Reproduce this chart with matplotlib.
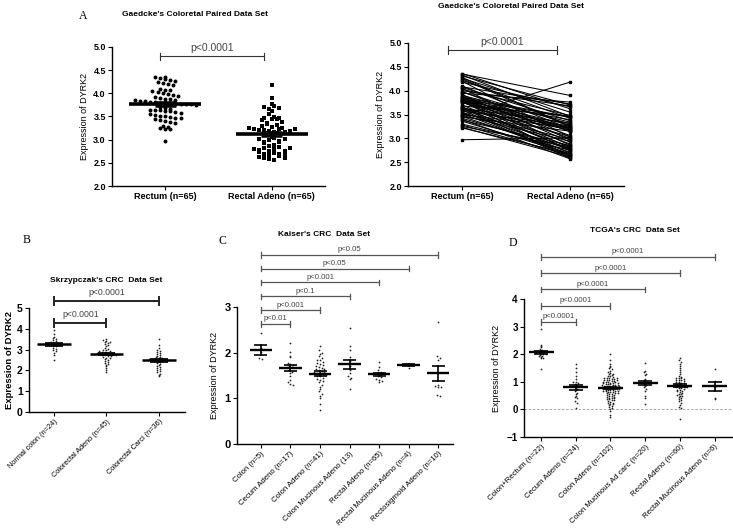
import numpy as np
import matplotlib
matplotlib.use('Agg')
import matplotlib.pyplot as plt
import matplotlib.transforms as mtransforms

plt.rcParams['font.family'] = ['Liberation Sans', 'DejaVu Sans']

W, H = 733, 529

# ---- data ------------------------------------------------------------------
# Gaedcke paired set: adeno values are listed in the same order as the rectum
# values they are paired with.
gaedcke_labels = ["Rectum (n=65)", "Rectal Adeno (n=65)"]
gaedcke_rectum = [
    4.36, 4.35, 4.33, 4.31, 4.28, 4.26, 4.25, 4.22, 4.20, 4.18,
    4.10, 4.08, 4.07, 4.05, 4.03, 4.00, 3.98, 3.97, 3.95,
    3.92, 3.90, 3.88, 3.87, 3.86, 3.85, 3.84, 3.83, 3.82, 3.81,
    3.80, 3.80, 3.79, 3.78, 3.78, 3.77, 3.76, 3.75,
    3.70, 3.68, 3.66, 3.65, 3.64, 3.63, 3.62, 3.61, 3.60,
    3.57, 3.55, 3.53, 3.52, 3.50, 3.48, 3.47, 3.46, 3.45,
    3.42, 3.40, 3.38, 3.36, 3.30, 3.28, 3.25, 3.23, 3.22, 2.97,
]
gaedcke_adeno = [
    3.62, 3.90, 3.46, 3.70, 3.25, 3.55, 3.24, 3.42, 3.02, 3.66,
    3.20, 3.72, 3.37, 2.96, 3.48, 3.68, 3.14, 3.30, 3.76,
    2.92, 3.34, 3.21, 3.06, 3.45, 2.86, 3.19, 3.44, 2.80, 3.28,
    3.00, 3.16, 2.74, 3.39, 2.62, 3.23, 2.88, 3.17,
    2.77, 3.47, 2.69, 3.04, 2.60, 3.32, 2.83, 3.18, 2.58,
    3.26, 2.76, 2.98, 2.66, 3.22, 2.94, 4.18, 2.71, 3.15,
    2.79, 2.57, 2.85, 2.68, 2.75, 2.64, 2.82, 2.61, 2.67, 3.01,
]

skrz_labels = ["Normal colon (n=24)", "Colorectal Adeno (n=45)", "Colorectal Carci (n=36)"]
skrz_normal = [3.95, 3.75, 3.62, 3.55, 3.50, 3.45, 3.40, 3.35, 3.32, 3.30, 3.28, 3.26,
               3.25, 3.22, 3.20, 3.18, 3.15, 3.10, 3.05, 3.00, 2.95, 2.85, 2.75, 2.50]
skrz_adeno = [3.50, 3.45, 3.42, 3.38, 3.35, 3.30, 3.25, 3.20, 3.15, 3.10,
              3.05, 3.00, 2.97, 2.95, 2.92, 2.90, 2.88, 2.86, 2.85, 2.84,
              2.83, 2.82, 2.81, 2.80, 2.79, 2.78, 2.76, 2.74, 2.72, 2.70,
              2.68, 2.65, 2.62, 2.60, 2.55, 2.50, 2.45, 2.40, 2.35, 2.30,
              2.25, 2.20, 2.10, 2.00, 1.92]
skrz_carci = [3.50, 3.20, 3.10, 3.00, 2.95, 2.90, 2.85, 2.80, 2.75, 2.70,
              2.66, 2.63, 2.60, 2.58, 2.56, 2.55, 2.54, 2.53, 2.52, 2.50,
              2.48, 2.45, 2.40, 2.35, 2.30, 2.25, 2.20, 2.15, 2.10, 2.05,
              2.00, 1.95, 1.90, 1.85, 1.78, 1.72]
skrz_pvals = [(0, 1, "p<0.0001"), (0, 2, "p<0.0001")]

kaiser_labels = ["Colon (n=5)", "Cecum Adeno (n=17)", "Colon Adeno (n=41)",
                 "Colon Mucinous Adeno (13)", "Rectal Adeno (n=65)",
                 "Rectal Mucinous Adeno (n=4)", "Rectosigmoid Adeno (n=10)"]
kaiser_colon = [2.44, 2.10, 2.02, 1.88, 1.86]
kaiser_cecum = [2.21, 2.02, 1.93, 1.90, 1.78, 1.75, 1.72, 1.70, 1.68, 1.62,
                1.58, 1.55, 1.50, 1.40, 1.35, 1.32, 1.30]
kaiser_colon_adeno = [2.15, 2.05, 2.00, 1.97, 1.92, 1.88, 1.85, 1.83, 1.80, 1.78,
                      1.75, 1.72, 1.70, 1.68, 1.66, 1.65, 1.64, 1.62, 1.60, 1.58,
                      1.57, 1.56, 1.55, 1.54, 1.52, 1.50, 1.48, 1.45, 1.42, 1.40,
                      1.38, 1.35, 1.30, 1.25, 1.20, 1.15, 1.10, 1.05, 1.00, 0.88, 0.74]
kaiser_colon_muc = [2.53, 2.15, 2.05, 1.90, 1.82, 1.75, 1.70, 1.62, 1.55, 1.50,
                    1.45, 1.42, 1.20]
kaiser_rectal = [1.80, 1.68, 1.62, 1.58, 1.55, 1.52, 1.50, 1.47, 1.43, 1.40, 1.38, 1.36]
kaiser_rectal_muc = [1.76, 1.75, 1.74, 1.66]
kaiser_rectosig = [2.67, 1.92, 1.88, 1.83, 1.30, 1.28, 1.25, 1.24, 1.07, 1.05]
kaiser_pvals = [(0, 1, "p<0.01"), (0, 2, "p<0.001"), (0, 3, "p<0.1"),
                (0, 4, "p<0.001"), (0, 5, "p<0.05"), (0, 6, "p<0.05")]

tcga_labels = ["Colon+Rectum (n=22)", "Cecum Adeno (n=24)", "Colon Adeno (n=102)",
               "Colon Mucinous Ad carc (n=20)", "Rectal Adeno (n=60)",
               "Rectal Mucinous Adeno (n=6)"]
tcga_normal = [2.90, 2.35, 2.30, 2.25, 2.20, 2.15, 2.12, 2.10, 2.08, 2.07, 2.05,
               2.04, 2.03, 2.02, 2.00, 1.98, 1.95, 1.92, 1.90, 1.88, 1.85, 1.45]
tcga_cecum = [1.65, 1.50, 1.35, 1.20, 1.10, 1.00, 0.98, 0.95, 0.92, 0.88, 0.85, 0.82,
              0.80, 0.75, 0.70, 0.65, 0.60, 0.55, 0.50, 0.45, 0.40, 0.30, 0.25, 0.05]
tcga_colon = [2.00, 1.78, 1.65, 1.58, 1.55, 1.50, 1.45, 1.40, 1.35, 1.32,
              1.30, 1.28, 1.25, 1.22, 1.20, 1.18, 1.15, 1.13, 1.12, 1.10,
              1.08, 1.06, 1.05, 1.03, 1.02, 1.00, 0.99, 0.98, 0.96, 0.95,
              0.94, 0.93, 0.92, 0.91, 0.90, 0.89, 0.88, 0.87, 0.86, 0.85,
              0.84, 0.83, 0.82, 0.81, 0.80, 0.80, 0.79, 0.78, 0.77, 0.76,
              0.75, 0.74, 0.73, 0.72, 0.71, 0.70, 0.69, 0.68, 0.67, 0.66,
              0.65, 0.64, 0.63, 0.62, 0.61, 0.60, 0.58, 0.56, 0.55, 0.53,
              0.52, 0.50, 0.48, 0.46, 0.45, 0.43, 0.42, 0.40, 0.38, 0.36,
              0.35, 0.33, 0.30, 0.28, 0.25, 0.22, 0.20, 0.18, 0.15, 0.12,
              0.10, 0.06, 0.02, -0.05, -0.22, -0.28, 1.00, 1.05, 1.10, 1.15,
              0.85, 0.95]
tcga_colon_muc = [1.68, 1.40, 1.35, 1.30, 1.25, 1.10, 1.05, 1.02, 1.00, 0.98,
                  0.95, 0.92, 0.90, 0.85, 0.80, 0.75, 0.65, 0.50, 0.40, 0.20]
tcga_rectal = [1.85, 1.78, 1.72, 1.65, 1.58, 1.50, 1.42, 1.35, 1.28, 1.22,
               1.18, 1.15, 1.13, 1.12, 1.10, 1.08, 1.06, 1.05, 1.03, 1.01,
               0.99, 0.97, 0.95, 0.93, 0.92, 0.90, 0.89, 0.88, 0.87, 0.86,
               0.85, 0.84, 0.83, 0.82, 0.81, 0.80, 0.78, 0.76, 0.74, 0.72,
               0.70, 0.68, 0.65, 0.62, 0.60, 0.57, 0.55, 0.52, 0.50, 0.47,
               0.45, 0.42, 0.38, 0.35, 0.30, 0.25, 0.15, 0.10, 0.05, -0.33]
tcga_rectal_muc = [1.45, 1.02, 0.90, 0.82, 0.42, 0.38]
tcga_pvals = [(0, 1, "p<0.0001"), (0, 2, "p<0.0001"), (0, 3, "p<0.0001"),
              (0, 4, "p<0.0001"), (0, 5, "p<0.0001")]


# ---- helpers ---------------------------------------------------------------
def px_axes(x0, y_top, x1, y_bot):
    """axes from pixel box of the reference image"""
    return fig.add_axes([x0 / W, 1 - y_bot / H, (x1 - x0) / W, (y_bot - y_top) / H])


def swarm_x(vals, center, bin_w, step):
    vals = np.asarray(vals, dtype=float)
    keys = np.round(vals / bin_w).astype(int)
    xs = np.empty(len(vals))
    for k in np.unique(keys):
        idx = np.where(keys == k)[0]
        offs = (np.arange(len(idx)) - (len(idx) - 1) / 2) * step
        xs[idx] = center + offs
    return xs


def mean_sem(ax, vals, x, hw, cw, lw):
    m = np.mean(vals)
    s = np.std(vals, ddof=1) / np.sqrt(len(vals))
    ax.plot([x - hw, x + hw], [m, m], color='k', lw=lw, zorder=5, solid_capstyle='butt')
    ax.plot([x, x], [m - s, m + s], color='k', lw=lw * 0.7, zorder=5)
    for yy in (m - s, m + s):
        ax.plot([x - cw, x + cw], [yy, yy], color='k', lw=lw * 0.7, zorder=5,
                solid_capstyle='butt')


def bracket(ax, x0, x1, yf, text, fs, color='#555555', lw=0.9, dy=0.025, tdy=0.02):
    tr = mtransforms.blended_transform_factory(ax.transData, ax.transAxes)
    kw = dict(color=color, lw=lw, transform=tr, clip_on=False)
    ax.plot([x0, x1], [yf, yf], **kw)
    ax.plot([x0, x0], [yf - dy, yf + dy], **kw)
    ax.plot([x1, x1], [yf - dy, yf + dy], **kw)
    ax.text((x0 + x1) / 2, yf + tdy, text, transform=tr, ha='center', va='bottom',
            fontsize=fs, color='#444444')


def style(ax, ytick_fs, bold=True):
    for sp in ('top', 'right'):
        ax.spines[sp].set_visible(False)
    for sp in ('left', 'bottom'):
        ax.spines[sp].set_linewidth(1.0)
    ax.tick_params(axis='both', direction='out', length=3, width=0.8, pad=1.5)
    for lab in ax.get_yticklabels():
        lab.set_fontsize(ytick_fs)
        if bold:
            lab.set_fontweight('bold')


fig = plt.figure(figsize=(W / 100, H / 100), dpi=100)
fig.patch.set_facecolor('white')

# ---- A left: scatter -------------------------------------------------------
ax = px_axes(112, 47, 325, 186)
ax.scatter(swarm_x(gaedcke_rectum, 0, 0.1, 0.048), gaedcke_rectum,
           s=8, color='k', marker='o', linewidths=0, zorder=3)
ax.scatter(swarm_x(gaedcke_adeno, 1, 0.1, 0.048), gaedcke_adeno,
           s=8, color='k', marker='s', linewidths=0, zorder=3)
for i, vals in enumerate([gaedcke_rectum, gaedcke_adeno]):
    mean_sem(ax, vals, i, 0.34, 0.1, 2.6)
ax.set_xlim(-0.5, 1.5)
ax.set_ylim(2.0, 5.0)
ax.set_yticks(np.arange(2.0, 5.01, 0.5))
ax.set_yticklabels([f"{v:.1f}" for v in np.arange(2.0, 5.01, 0.5)])
ax.set_xticks([0, 1])
ax.set_xticklabels(gaedcke_labels, fontsize=6.5, fontweight='bold')
ax.set_ylabel("Expression of DYRK2", fontsize=6.5, labelpad=3)
style(ax, 6.5)
bracket(ax, -0.05, 0.93, 0.935, "p<0.0001", 7.5, color='#333333', lw=0.8)

# ---- A right: paired lines -------------------------------------------------
ax = px_axes(408, 43, 624, 186)
for r, a in zip(gaedcke_rectum, gaedcke_adeno):
    ax.plot([0, 1], [r, a], color='k', lw=0.75, marker='s', ms=1.6, zorder=3)
ax.set_xlim(-0.5, 1.5)
ax.set_ylim(2.0, 5.0)
ax.set_yticks(np.arange(2.0, 5.01, 0.5))
ax.set_yticklabels([f"{v:.1f}" for v in np.arange(2.0, 5.01, 0.5)])
ax.set_xticks([0, 1])
ax.set_xticklabels(gaedcke_labels, fontsize=6.5, fontweight='bold')
ax.set_ylabel("Expression of DYRK2", fontsize=6.5, labelpad=3)
style(ax, 6.5)
bracket(ax, -0.13, 0.88, 0.951, "p<0.0001", 7.5, color='#333333', lw=0.8)

# ---- B: Skrzypczak ---------------------------------------------------------
ax = px_axes(29, 308, 185, 412)
skrz_groups = [skrz_normal, skrz_adeno, skrz_carci]
for i, vals in enumerate(skrz_groups):
    ax.scatter(swarm_x(vals, i, 0.09, 0.06), vals, s=1.6, color='#222222',
               linewidths=0, zorder=3)
    mean_sem(ax, vals, i, 0.32, 0.17, 1.8)
ax.set_xlim(-0.48, 2.5)
ax.set_ylim(0, 5)
ax.set_yticks(range(0, 6))
ax.set_xticks(range(3))
ax.set_xticklabels(skrz_labels, fontsize=5.3, rotation=45, ha='right',
                   rotation_mode='anchor')
ax.set_ylabel("Expression of DYRK2", fontsize=6.8, fontweight='bold', labelpad=2)
style(ax, 7.5)
for k, (a, b, t) in enumerate(skrz_pvals):
    bracket(ax, a, b, 0.856 + 0.211 * k, t, 6.3, color='#222222', lw=1.4,
            dy=0.035, tdy=0.035)

# ---- C: Kaiser -------------------------------------------------------------
ax = px_axes(237, 307, 453, 444)
kaiser_groups = [kaiser_colon, kaiser_cecum, kaiser_colon_adeno, kaiser_colon_muc,
                 kaiser_rectal, kaiser_rectal_muc, kaiser_rectosig]
for i, vals in enumerate(kaiser_groups):
    ax.scatter(swarm_x(vals, i, 0.07, 0.1), vals, s=1.6, color='#222222',
               linewidths=0, zorder=3)
    mean_sem(ax, vals, i, 0.38, 0.22, 1.7)
ax.set_xlim(-0.81, 6.5)
ax.set_ylim(0, 3)
ax.set_yticks(range(0, 4))
ax.set_xticks(range(7))
ax.set_xticklabels(kaiser_labels, fontsize=5.6, rotation=45, ha='right',
                   rotation_mode='anchor')
ax.set_ylabel("Expression of DYRK2", fontsize=6.5, labelpad=4)
style(ax, 8)
for k, (a, b, t) in enumerate(kaiser_pvals):
    bracket(ax, a, b, 0.876 + 0.101 * k, t, 5.6, dy=0.02, tdy=0.012)

# ---- D: TCGA ---------------------------------------------------------------
ax = px_axes(524, 299, 732, 437)
tcga_groups = [tcga_normal, tcga_cecum, tcga_colon, tcga_colon_muc, tcga_rectal,
               tcga_rectal_muc]
for i, vals in enumerate(tcga_groups):
    ax.scatter(swarm_x(vals, i, 0.07, 0.07), vals, s=1.6, color='#222222',
               linewidths=0, zorder=3)
    mean_sem(ax, vals, i, 0.36, 0.2, 1.7)
ax.axhline(0, color='#999999', lw=0.6, ls=(0, (3, 2)), zorder=1)
ax.set_xlim(-0.49, 5.5)
ax.set_ylim(-1, 4)
ax.set_yticks(range(-1, 5))
ax.set_xticks(range(6))
ax.set_xticklabels(tcga_labels, fontsize=5.6, rotation=45, ha='right',
                   rotation_mode='anchor')
ax.set_ylabel("Expression of DYRK2", fontsize=6.5, labelpad=4)
style(ax, 7)
for k, (a, b, t) in enumerate(tcga_pvals):
    bracket(ax, a, b, 0.833 + 0.118 * k, t, 5.6, dy=0.02, tdy=0.012)

# ---- titles and panel letters ----------------------------------------------
title_kw = dict(ha='center', va='center', fontsize=6.0, fontweight='bold')
fig.text(195 / W, 1 - 14 / H, "Gaedcke's Coloretal Paired Data Set", **title_kw)
fig.text(511 / W, 1 - 7 / H, "Gaedcke's Coloretal Paired Data Set", **title_kw)
fig.text(106 / W, 1 - 281 / H, "Skrzypczak's CRC  Data Set", **title_kw)
fig.text(324 / W, 1 - 235 / H, "Kaiser's CRC  Data Set", **title_kw)
fig.text(635 / W, 1 - 231 / H, "TCGA's CRC  Data Set", **title_kw)

letter_kw = dict(ha='center', va='center', fontsize=8.5, family='Liberation Serif')
fig.text(83 / W, 1 - 16 / H, "A", **letter_kw)
fig.text(27 / W, 1 - 240 / H, "B", **letter_kw)
fig.text(222 / W, 1 - 241 / H, "C", **letter_kw)
fig.text(513 / W, 1 - 243 / H, "D", **letter_kw)

fig.savefig("out.png", dpi=100, facecolor='white')
